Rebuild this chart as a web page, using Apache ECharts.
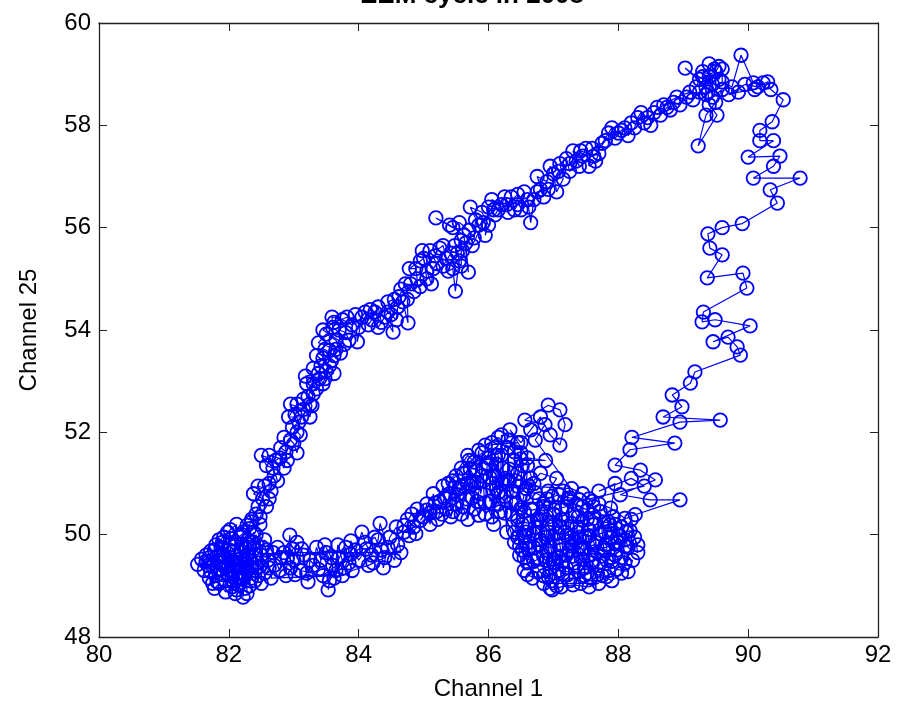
<!DOCTYPE html>
<html><head><meta charset="utf-8">
<script src="https://cdn.jsdelivr.net/npm/echarts@6/dist/echarts.min.js"></script>
<style>html,body{margin:0;padding:0;background:#fff}#c{width:898px;height:707px}</style>
</head><body><div id="c"></div>
<script>
const titleText = 'EEM cycle in 2008';
const xName = 'Channel 1';
const yName = 'Channel 25';
const xTicks = [80, 82, 84, 86, 88, 90, 92];
const yTicks = [48, 50, 52, 54, 56, 58, 60];

// main blob, lower-right part
const blobB = [
[86.42,50.60],[86.48,49.60],[86.55,49.30],[86.52,50.20],[86.62,49.85],[86.68,49.15],[86.65,50.50],[86.75,49.55],[86.72,50.15],[86.80,49.90],[86.78,50.70],
[86.85,49.20],[86.82,50.40],[86.90,49.70],[86.95,48.95],[86.92,50.05],[87.00,49.45],[86.98,50.75],[87.05,49.00],[87.02,50.20],[87.10,49.80],[87.15,49.25],
[87.12,50.50],[87.20,49.60],[87.18,50.05],[87.25,49.10],[87.22,50.70],[87.28,49.95],[87.33,49.45],[87.30,50.40],[87.42,49.05],[87.36,50.15],[87.40,49.75],
[87.48,49.35],[87.45,50.55],[87.50,49.95],[87.58,49.15],[87.52,50.30],[87.55,49.60],[87.62,50.20],[87.70,49.40],[87.65,49.85],[87.72,50.45],[87.78,49.70],
[87.85,49.30],[87.80,50.05],[87.88,49.95],[87.95,49.60],[87.92,50.35],[88.00,49.85],[88.10,49.45],[88.05,50.15],[88.15,49.75],[88.30,49.65],[88.20,50.30],
[88.25,49.95],[88.05,49.25],[87.90,49.10],[87.75,49.20],[87.60,49.45],[87.35,49.85],[87.10,50.15],[87.00,50.40],[86.85,50.60],[86.95,49.35],[87.08,49.55],
[87.25,49.70],[87.40,49.95],[87.55,50.10],[87.68,49.65],[87.82,49.50],[87.98,49.70],[88.12,50.05],[87.85,50.25],[87.62,50.55],[87.38,50.35],[87.15,50.85],
[86.98,49.10],[86.88,49.50],[86.70,49.75],[86.58,50.05],[86.75,50.30],[86.92,50.85],[87.05,51.10],[86.80,51.20],[86.62,50.95],[87.28,50.90],[87.45,50.80],
[87.60,50.65],[87.20,49.35],[87.48,49.20],[86.60,49.45],[86.52,49.70],[86.45,49.95]
];
const blobB2 = [
[86.98,48.92],[87.12,48.98],[87.30,49.02],[87.55,48.98],[87.70,49.05],[86.85,49.05],
[86.60,49.22],[86.78,49.28],[86.92,49.18],[87.08,49.30],[87.22,49.22],[87.38,49.28],[87.52,49.25],[87.68,49.22],[87.82,49.18],[87.98,49.32],[88.15,49.28],
[88.22,49.50],[88.05,49.55],[87.90,49.48],[87.75,49.58],[87.60,49.50],[87.45,49.52],[87.30,49.58],[87.15,49.48],[87.00,49.52],[86.85,49.58],[86.70,49.48],[86.55,49.55],
[86.48,49.78],[86.62,49.72],[86.78,49.80],[86.95,49.75],[87.12,49.70],[87.28,49.78],[87.45,49.72],[87.62,49.80],[87.78,49.74],[87.95,49.82],[88.12,49.78],[88.30,49.80],
[88.18,50.08],[88.02,49.98],[87.88,50.08],[87.72,50.02],[87.55,49.98],[87.38,50.05],[87.20,49.98],[87.05,50.02],[86.88,49.95],[86.70,50.02],[86.55,49.98],[86.40,50.05],
[86.45,50.28],[86.62,50.22],[86.80,50.28],[86.95,50.22],[87.12,50.30],[87.28,50.22],[87.45,50.28],[87.62,50.32],[87.78,50.25],[87.95,50.20],[88.10,50.32],
[87.88,50.52],[87.70,50.60],[87.52,50.48],[87.35,50.60],[87.20,50.55],[87.02,50.48],[86.85,50.55],[86.68,50.48],[86.50,50.52],
[86.55,50.78],[86.72,50.82],[86.90,50.70],[87.08,50.78],[87.25,50.72],[87.40,50.68]
];
const hook = [
[86.72,51.85],[86.87,52.15],[86.56,52.24],[86.92,52.53],[87.10,52.44],[87.18,52.15],[87.10,51.75],[86.95,51.95],[86.80,52.30],[86.65,52.05],[86.50,51.80],
[86.33,52.05],[86.60,51.50],[86.88,51.45]
];
// main blob, upper-left part
const blobA = [
[86.40,51.45],[86.38,50.85],[86.35,50.40],[86.32,51.05],[86.30,51.70],[86.28,50.05],[86.25,50.75],[86.22,51.30],[86.20,51.95],[86.18,50.45],[86.15,51.55],
[86.12,50.90],[86.10,51.15],[86.08,50.20],[86.05,51.80],[86.02,50.65],[86.25,51.10],[86.15,50.60],[86.05,51.00],[86.35,50.85],[86.45,51.20],[86.50,51.60],
[86.58,50.90],[86.60,51.35],[86.70,51.00],[86.45,50.95],[86.55,50.45],[86.65,51.10],[86.40,49.85],[86.00,51.35],[85.98,51.40],[85.95,50.40],[85.92,51.05],
[85.88,50.80],[85.85,51.65],[85.80,51.25],[85.78,50.50],[85.75,51.05],[85.72,50.95],[85.70,51.45],[85.65,50.70],[85.62,51.20],[85.90,51.15],[85.82,50.65],
[85.68,51.00],[85.58,50.40],[85.55,50.90],[85.50,50.60],[85.45,51.05],[85.45,50.45],[85.40,50.80],[85.35,50.50],[85.30,50.95],[85.25,50.65],[85.20,50.45],
[85.15,50.80],[85.10,50.20],[85.05,50.60],[85.00,50.35],[84.90,50.50],[84.85,50.15],[84.75,50.30],[84.78,49.98]
];
const blobA2 = [
[85.10,50.42],[85.22,50.30],[85.32,50.72],[85.42,50.35],[85.52,50.78],[85.60,50.55],[85.68,50.30],[85.75,50.72],[85.85,50.38],[85.95,50.62],[86.05,50.35],
[86.15,50.82],[86.25,50.42],[86.35,50.62],[86.45,50.35],[86.52,51.35],[86.42,51.05],[86.32,51.28],[86.22,51.00],[86.12,51.38],[86.02,51.12],[85.92,51.30],
[85.82,51.02],[85.72,51.28],[85.60,50.95],[85.50,51.15],[85.38,51.00],[85.68,51.55],[85.78,51.42],[85.90,51.60],[86.00,51.50],[86.10,51.70],[86.20,51.55],
[86.30,51.85],[86.40,51.62],[86.50,51.48],[86.15,51.90],[85.95,51.75],[86.45,51.80],[85.58,51.30],[85.48,50.92],[85.28,50.40],[85.18,50.62],[84.95,50.28],
[85.05,50.48],[84.82,50.40],[84.70,50.18],[84.88,50.02]
];
const lowerBand = [
[84.70,50.05],[84.60,49.80],[84.55,49.50],[84.45,49.75],[84.33,50.22],[84.30,49.90],[84.20,49.60],[84.10,49.85],[84.05,50.05],[83.95,49.70],[83.85,49.45],
[83.80,49.75],[83.70,49.55],[83.65,49.30],[83.55,49.10],[83.53,48.92],[83.60,49.40],[83.50,49.65],[83.42,49.50],[83.35,49.75],[83.30,49.40],[83.20,49.25],
[83.15,49.60],[83.05,49.85],[83.00,49.50],[82.95,49.35],[82.94,49.99],[82.88,49.20],[82.80,49.55],[82.75,49.75],[82.70,49.40],[82.65,49.15],[83.75,49.20],
[83.90,49.30],[84.15,49.40],[84.40,49.55],[84.25,49.95],[83.45,49.20],[83.10,49.30],[82.85,49.65]
];
const lowerBand2 = [
[84.65,49.65],[84.58,50.15],[84.48,49.95],[84.38,49.35],[84.35,49.70],[84.22,49.45],[84.12,49.72],[84.00,49.50],[83.88,49.88],[83.88,49.62],[83.78,49.35],
[83.68,49.80],[83.62,49.15],[83.58,49.55],[83.48,49.80],[83.38,49.32],[83.25,49.50],[83.22,49.08],[83.12,49.72],[83.02,49.22],[82.98,49.72],[82.90,49.55],
[82.78,49.30],[82.68,49.65]
];
const leftBlob = [
[82.60,49.50],[82.55,49.25],[82.50,49.60],[82.55,49.90],[82.45,49.45],[82.40,49.10],[82.42,50.00],[82.38,49.72],[82.35,49.35],[82.32,49.00],[82.30,49.90],
[82.28,49.60],[82.25,49.20],[82.22,48.78],[82.22,50.05],[82.20,49.15],[82.18,49.65],[82.15,49.40],[82.12,48.92],[82.10,49.85],[82.08,49.05],[82.05,49.50],
[82.02,49.30],[82.00,49.70],[81.95,49.10],[81.92,49.95],[81.90,49.45],[81.88,49.75],[81.85,49.60],[81.80,49.20],[81.75,49.38],[81.70,49.55],[81.62,49.30],
[81.52,49.42],[81.65,49.60],[81.70,49.15],[81.78,48.95],[81.85,49.05],[81.95,48.88],[82.05,48.98],[81.98,49.22],[81.88,49.32],[81.80,49.80],[81.98,50.05],
[82.12,50.20],[82.05,49.92],[81.92,49.62],[82.00,49.40],[82.15,49.25],[82.28,49.45],[82.40,49.30],[82.10,49.58],[82.20,49.82],[82.32,50.12],[82.48,50.20],
[82.35,50.30]
];
const leftBlob2 = [
[82.58,49.70],[82.62,49.35],[82.50,49.05],[82.52,49.75],[82.48,49.38],[82.42,49.60],[82.45,49.20],[82.38,49.85],[82.38,50.05],[82.35,49.15],[82.32,49.55],
[82.32,49.75],[82.28,49.30],[82.28,50.18],[82.28,48.85],[82.25,49.75],[82.25,48.95],[82.22,49.35],[82.18,49.52],[82.18,49.95],[82.15,49.02],[82.12,49.12],
[82.12,49.45],[82.10,48.85],[82.08,49.38],[82.08,49.68],[82.05,49.18],[82.02,49.80],[82.02,50.10],[81.95,49.55],[81.95,49.35],[81.90,49.22],[81.90,49.85],
[81.85,49.90],[81.82,49.48],[81.82,49.08],[81.78,49.70],[81.75,49.05],[81.72,49.68],[81.72,49.28],[81.68,49.40],[81.65,49.48],[81.58,49.52],[82.20,50.00]
];
// up the diagonal band
const diagonal = [
[82.35,50.25],[82.42,50.40],[82.45,50.55],[82.52,50.70],[82.38,50.80],[82.55,50.95],[82.62,50.70],[82.62,51.00],[82.70,51.15],[82.68,51.30],[82.58,51.35],
[82.50,51.55],[82.72,51.45],[82.78,51.50],[82.85,51.30],[82.88,51.62],[82.80,51.70],[82.95,51.85],[83.00,51.78],[83.05,51.60],[83.10,51.95],[82.98,52.10],
[83.08,52.20],[83.02,52.35],[82.95,52.55],[83.15,52.45],[83.15,52.65],[83.25,52.30],[83.28,52.52],[83.22,52.70],[83.30,52.95],[83.35,52.85],[83.20,52.95],
[83.40,53.05],[83.48,53.05],[83.30,53.25],[83.42,53.30],[83.50,53.20],[83.62,53.15],[83.45,53.45],[83.58,53.40],[83.55,53.60],[83.65,53.62],[83.38,53.75],
[83.50,53.92],[83.65,53.80],[83.72,53.55],[83.70,54.00],[83.80,53.95],[83.85,53.80],[83.60,54.05],[83.59,54.25],[83.75,54.20],[83.90,54.10],[83.95,54.30],
[83.98,53.77],[84.05,54.25],[84.10,54.35],[84.15,54.10],[84.20,54.20],[84.25,54.35],[84.30,54.45],[84.35,54.15],[84.40,54.25],[84.53,53.96],[84.50,54.30],
[84.45,54.55],[84.55,54.60],[84.60,54.45],[84.68,54.55],[84.76,54.14],[84.75,54.60],[84.65,54.80],[84.80,54.90],[84.85,54.75],[84.90,55.00],[84.88,55.20],
[84.78,55.20],[84.95,55.35],[85.00,55.40],[85.05,55.15],[85.12,54.90],[85.15,55.20],[85.20,55.30],[85.10,55.55],[85.25,55.60],[85.30,55.65],[85.35,55.40],
[85.38,55.15],[85.45,55.20],[85.49,54.76],[85.55,55.35],[85.52,55.50],[85.48,55.65],[85.60,55.55],[85.65,55.70],[85.69,55.13],[85.62,55.85],[85.40,56.05],
[85.19,56.19],[85.45,56.00],[85.55,56.10],[85.70,55.95],[85.78,55.80],[85.80,56.15],[85.85,56.05],[85.72,56.40],[85.90,56.30],[86.00,56.05],[85.95,55.85],
[86.00,56.40],[86.10,56.25],[86.15,56.35],[86.05,56.55],[86.20,56.45],[86.25,56.60],[86.30,56.30],[86.35,56.60],[86.40,56.35],[86.45,56.45],[86.55,56.70],
[86.50,56.35],[86.60,56.55],[86.65,56.10],[86.70,56.55],[86.80,56.75],[86.85,56.60],[86.75,57.00],[86.90,56.90],[86.95,57.20],[87.00,57.05],[87.05,56.70],
[87.15,56.95],[87.10,57.25],[87.20,57.35],[87.25,57.10],[87.35,57.30],[87.40,57.20],[87.30,57.50],[87.45,57.40],[87.50,57.55],[87.55,57.20],[87.65,57.30],
[87.70,57.45],[87.60,57.55],[87.75,57.65],[87.85,57.85],[87.90,57.95],[87.95,57.75],[88.05,57.90],[88.10,57.95],[88.15,57.80],[88.25,57.95],[88.30,58.15],
[88.35,58.25],[88.40,58.05],[88.55,58.25],[88.50,58.00],[88.60,58.35],[88.65,58.20],[88.75,58.35],[88.80,58.30],[88.85,58.45],[88.95,58.40],[89.05,58.55],
[89.15,58.50],[89.25,58.65],[89.35,58.60]
];
// back down the diagonal band
const diagonalBack = [
[89.10,58.65],[88.90,58.55],[88.70,58.40],[88.45,58.15],[88.20,58.05],[88.00,57.85],[87.80,57.70],[87.62,57.40],[87.42,57.50],[87.25,57.25],[87.08,57.10],
[86.92,56.75],[86.75,56.70],[86.62,56.40],[86.45,56.65],[86.28,56.45],[86.08,56.35],[85.92,56.10],[85.75,55.65],[85.58,55.75],[85.58,55.25],[85.42,55.50],
[85.30,55.25],[85.18,55.45],[84.98,55.55],[85.05,55.00],[84.95,54.85],[84.72,54.90],[84.62,54.65],[84.58,54.20],[84.45,54.35],[84.30,54.05],[84.18,54.40],
[84.00,54.05],[83.82,54.25],[83.62,54.15],[83.45,54.00],[83.78,53.72],[83.62,53.50],[83.48,53.62],[83.35,53.50],[83.55,53.30],[83.45,52.95],[83.38,53.15],
[83.18,53.10],[83.30,52.75],[83.25,52.55],[83.05,52.55],[82.92,52.30],[83.12,52.30],[83.05,52.00],[82.85,51.90],[82.90,51.45],[82.62,51.55],[82.75,51.05],
[82.65,50.85],[82.45,50.95],[82.58,50.55],[82.48,50.35]
];
const topCluster = [
[89.45,58.80],[89.30,58.95],[89.50,59.05],[89.40,59.20],[89.55,59.15],[89.35,58.75],[89.03,59.12],[89.25,58.90],[89.20,58.75],[89.40,58.95],[89.45,58.55],
[89.60,58.70],[89.50,58.45],[89.35,58.20],[89.23,57.60],[89.52,58.20],[89.40,58.40],[89.38,58.65],[89.48,59.10],[89.30,59.05],[89.55,58.90],[89.60,59.10],
[89.60,58.85],[89.75,58.75],[89.89,59.37],[90.08,58.83],[90.23,58.83],[90.10,58.70],[89.85,58.65],[89.70,58.60],[89.95,58.80],[90.15,58.75],[90.30,58.85],
[90.35,58.70],[90.54,58.50]
];
const rightDescent = [
[90.37,58.07],[90.18,57.90],[90.18,57.70],[90.39,57.70],[90.00,57.38],[90.49,57.40],[90.39,57.20],[90.08,56.97],[90.80,56.97],[90.34,56.74],[90.45,56.48],
[89.91,56.08],[89.60,56.00],[89.38,55.88],[89.41,55.60],[89.60,55.47],[89.37,55.02],[89.92,55.11],[89.98,54.82],[89.31,54.35],[89.29,54.16],[89.49,54.20],
[90.03,54.08],[89.46,53.77],[89.69,53.86],[89.83,53.67],[89.88,53.51],[89.18,53.18],[89.11,52.96],[88.83,52.73],[88.98,52.50],[88.69,52.30],[89.57,52.24],
[88.95,52.20],[88.21,51.90],[88.87,51.79]
];
const rightLower = [
[88.18,51.66],[87.95,51.36],[88.34,51.26],[88.57,51.07],[88.03,50.78],[88.49,50.68],[88.95,50.68],[88.26,50.39],[87.87,50.19],[88.10,49.90],[87.80,49.80],
[87.95,51.00],[87.70,50.85],[88.20,51.10],[88.40,50.95],[87.55,50.70]
];

const pts = [].concat(topCluster, rightDescent, rightLower, blobB, blobB2, hook, blobA, blobA2,
  lowerBand, lowerBand2, leftBlob, leftBlob2, diagonal, diagonalBack);

const blue = '#0000ff';
const font = 'Liberation Sans, Arial, sans-serif';
const chart = echarts.init(document.getElementById('c'), null, {renderer: 'canvas'});
const step = xTicks[1] - xTicks[0];
const ystep = yTicks[1] - yTicks[0];
function xAx(pos, showLabel, name) {
  return {
    type: 'value', position: pos, min: xTicks[0], max: xTicks[xTicks.length - 1], interval: step,
    name: name || '', nameLocation: 'middle', nameGap: 40,
    nameTextStyle: {fontFamily: font, fontSize: 24, color: '#000'},
    axisLine: {show: true, onZero: false, lineStyle: {color: '#222', width: 1.3}},
    axisTick: {show: true, inside: true, length: 8, lineStyle: {color: '#222', width: 1}},
    axisLabel: {show: showLabel, fontFamily: font, fontSize: 24, color: '#000', margin: 6},
    splitLine: {show: false}
  };
}
function yAx(pos, showLabel, name) {
  return {
    type: 'value', position: pos, min: yTicks[0], max: yTicks[yTicks.length - 1], interval: ystep,
    name: name || '', nameLocation: 'middle', nameGap: 58, nameRotate: 90,
    nameTextStyle: {fontFamily: font, fontSize: 24, color: '#000'},
    axisLine: {show: true, onZero: false, lineStyle: {color: '#222', width: 1.3}},
    axisTick: {show: true, inside: true, length: 8, lineStyle: {color: '#222', width: 1}},
    axisLabel: {show: showLabel, fontFamily: font, fontSize: 24, color: '#000', margin: 8},
    splitLine: {show: false}
  };
}
chart.setOption({
  animation: false,
  backgroundColor: '#fff',
  title: {text: titleText, left: 355, top: -22, textStyle: {fontFamily: font, fontSize: 26, fontWeight: 'bold', color: '#000'}},
  grid: {left: 99, right: 20, top: 23, bottom: 70, containLabel: false},
  xAxis: [xAx('bottom', true, xName), xAx('top', false)],
  yAxis: [yAx('left', true, yName), yAx('right', false)],
  series: [{
    type: 'line', xAxisIndex: 0, yAxisIndex: 0,
    data: pts,
    symbol: 'circle', symbolSize: 13.5, showAllSymbol: true,
    itemStyle: {color: 'rgba(0,0,0,0)', borderColor: blue, borderWidth: 1.8},
    lineStyle: {color: blue, width: 1.2},
    emphasis: {disabled: true},
    silent: true
  }]
});
</script></body></html>
